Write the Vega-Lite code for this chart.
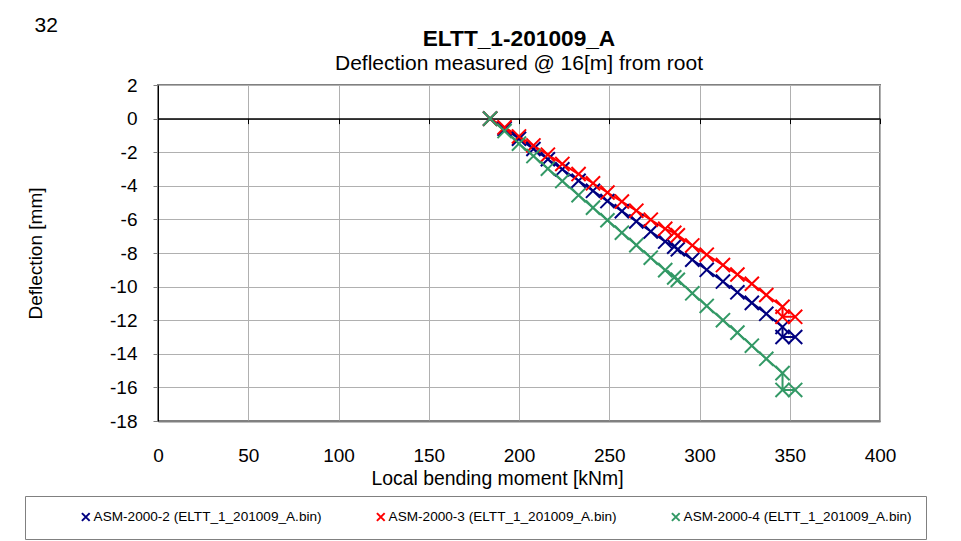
{
  "$schema": "https://vega.github.io/schema/vega-lite/v6.json",
  "width": 722,
  "height": 336,
  "autosize": {"type": "none"},
  "padding": {"left": 158, "top": 85, "right": 81, "bottom": 120},
  "background": "white",
  "config": {
    "font": "Liberation Sans",
    "view": {"stroke": "#808080", "strokeWidth": 2},
    "axis": {"labelFont": "Liberation Sans", "titleFont": "Liberation Sans", "labelColor": "black", "titleColor": "black", "titleFontWeight": "normal"}
  },
  "title": {
    "text": "ELTT_1-201009_A",
    "subtitle": "Deflection measured @ 16[m] from root",
    "anchor": "middle",
    "frame": "group",
    "fontSize": 22.7,
    "fontWeight": "bold",
    "subtitleFontSize": 21,
    "subtitleColor": "black",
    "color": "black",
    "font": "Liberation Sans",
    "subtitleFont": "Liberation Sans",
    "offset": -59,
    "subtitlePadding": 2
  },
  "data": {
    "values": [
      {"series": "ASM-2000-2 (ELTT_1_201009_A.bin)", "step": 0, "moment": 184, "deflection": 0},
      {"series": "ASM-2000-2 (ELTT_1_201009_A.bin)", "step": 1, "moment": 192, "deflection": -0.6},
      {"series": "ASM-2000-2 (ELTT_1_201009_A.bin)", "step": 2, "moment": 200, "deflection": -1.2},
      {"series": "ASM-2000-2 (ELTT_1_201009_A.bin)", "step": 3, "moment": 208, "deflection": -1.81},
      {"series": "ASM-2000-2 (ELTT_1_201009_A.bin)", "step": 4, "moment": 216, "deflection": -2.42},
      {"series": "ASM-2000-2 (ELTT_1_201009_A.bin)", "step": 5, "moment": 224, "deflection": -3.02},
      {"series": "ASM-2000-2 (ELTT_1_201009_A.bin)", "step": 6, "moment": 233, "deflection": -3.7},
      {"series": "ASM-2000-2 (ELTT_1_201009_A.bin)", "step": 7, "moment": 241, "deflection": -4.3},
      {"series": "ASM-2000-2 (ELTT_1_201009_A.bin)", "step": 8, "moment": 249, "deflection": -4.91},
      {"series": "ASM-2000-2 (ELTT_1_201009_A.bin)", "step": 9, "moment": 257, "deflection": -5.51},
      {"series": "ASM-2000-2 (ELTT_1_201009_A.bin)", "step": 10, "moment": 265, "deflection": -6.12},
      {"series": "ASM-2000-2 (ELTT_1_201009_A.bin)", "step": 11, "moment": 273, "deflection": -6.72},
      {"series": "ASM-2000-2 (ELTT_1_201009_A.bin)", "step": 12, "moment": 281, "deflection": -7.32},
      {"series": "ASM-2000-2 (ELTT_1_201009_A.bin)", "step": 13, "moment": 286, "deflection": -7.62},
      {"series": "ASM-2000-2 (ELTT_1_201009_A.bin)", "step": 14, "moment": 288, "deflection": -7.78},
      {"series": "ASM-2000-2 (ELTT_1_201009_A.bin)", "step": 15, "moment": 296, "deflection": -8.4},
      {"series": "ASM-2000-2 (ELTT_1_201009_A.bin)", "step": 16, "moment": 304, "deflection": -9.0},
      {"series": "ASM-2000-2 (ELTT_1_201009_A.bin)", "step": 17, "moment": 313, "deflection": -9.7},
      {"series": "ASM-2000-2 (ELTT_1_201009_A.bin)", "step": 18, "moment": 321, "deflection": -10.34},
      {"series": "ASM-2000-2 (ELTT_1_201009_A.bin)", "step": 19, "moment": 329, "deflection": -10.97},
      {"series": "ASM-2000-2 (ELTT_1_201009_A.bin)", "step": 20, "moment": 337, "deflection": -11.62},
      {"series": "ASM-2000-2 (ELTT_1_201009_A.bin)", "step": 21, "moment": 346, "deflection": -12.4},
      {"series": "ASM-2000-2 (ELTT_1_201009_A.bin)", "step": 22, "moment": 346, "deflection": -13.0},
      {"series": "ASM-2000-2 (ELTT_1_201009_A.bin)", "step": 23, "moment": 353, "deflection": -13.0},
      {"series": "ASM-2000-3 (ELTT_1_201009_A.bin)", "step": 0, "moment": 184, "deflection": 0},
      {"series": "ASM-2000-3 (ELTT_1_201009_A.bin)", "step": 1, "moment": 192, "deflection": -0.52},
      {"series": "ASM-2000-3 (ELTT_1_201009_A.bin)", "step": 2, "moment": 200, "deflection": -1.06},
      {"series": "ASM-2000-3 (ELTT_1_201009_A.bin)", "step": 3, "moment": 208, "deflection": -1.6},
      {"series": "ASM-2000-3 (ELTT_1_201009_A.bin)", "step": 4, "moment": 216, "deflection": -2.15},
      {"series": "ASM-2000-3 (ELTT_1_201009_A.bin)", "step": 5, "moment": 224, "deflection": -2.7},
      {"series": "ASM-2000-3 (ELTT_1_201009_A.bin)", "step": 6, "moment": 233, "deflection": -3.3},
      {"series": "ASM-2000-3 (ELTT_1_201009_A.bin)", "step": 7, "moment": 241, "deflection": -3.85},
      {"series": "ASM-2000-3 (ELTT_1_201009_A.bin)", "step": 8, "moment": 249, "deflection": -4.4},
      {"series": "ASM-2000-3 (ELTT_1_201009_A.bin)", "step": 9, "moment": 257, "deflection": -4.94},
      {"series": "ASM-2000-3 (ELTT_1_201009_A.bin)", "step": 10, "moment": 265, "deflection": -5.48},
      {"series": "ASM-2000-3 (ELTT_1_201009_A.bin)", "step": 11, "moment": 273, "deflection": -6.02},
      {"series": "ASM-2000-3 (ELTT_1_201009_A.bin)", "step": 12, "moment": 281, "deflection": -6.56},
      {"series": "ASM-2000-3 (ELTT_1_201009_A.bin)", "step": 13, "moment": 286, "deflection": -6.8},
      {"series": "ASM-2000-3 (ELTT_1_201009_A.bin)", "step": 14, "moment": 288, "deflection": -6.95},
      {"series": "ASM-2000-3 (ELTT_1_201009_A.bin)", "step": 15, "moment": 296, "deflection": -7.55},
      {"series": "ASM-2000-3 (ELTT_1_201009_A.bin)", "step": 16, "moment": 304, "deflection": -8.1},
      {"series": "ASM-2000-3 (ELTT_1_201009_A.bin)", "step": 17, "moment": 313, "deflection": -8.72},
      {"series": "ASM-2000-3 (ELTT_1_201009_A.bin)", "step": 18, "moment": 321, "deflection": -9.28},
      {"series": "ASM-2000-3 (ELTT_1_201009_A.bin)", "step": 19, "moment": 329, "deflection": -9.83},
      {"series": "ASM-2000-3 (ELTT_1_201009_A.bin)", "step": 20, "moment": 337, "deflection": -10.5},
      {"series": "ASM-2000-3 (ELTT_1_201009_A.bin)", "step": 21, "moment": 346, "deflection": -11.2},
      {"series": "ASM-2000-3 (ELTT_1_201009_A.bin)", "step": 22, "moment": 346, "deflection": -11.8},
      {"series": "ASM-2000-3 (ELTT_1_201009_A.bin)", "step": 23, "moment": 353, "deflection": -11.8},
      {"series": "ASM-2000-4 (ELTT_1_201009_A.bin)", "step": 0, "moment": 184, "deflection": 0},
      {"series": "ASM-2000-4 (ELTT_1_201009_A.bin)", "step": 1, "moment": 192, "deflection": -0.74},
      {"series": "ASM-2000-4 (ELTT_1_201009_A.bin)", "step": 2, "moment": 200, "deflection": -1.49},
      {"series": "ASM-2000-4 (ELTT_1_201009_A.bin)", "step": 3, "moment": 208, "deflection": -2.23},
      {"series": "ASM-2000-4 (ELTT_1_201009_A.bin)", "step": 4, "moment": 216, "deflection": -2.98},
      {"series": "ASM-2000-4 (ELTT_1_201009_A.bin)", "step": 5, "moment": 224, "deflection": -3.72},
      {"series": "ASM-2000-4 (ELTT_1_201009_A.bin)", "step": 6, "moment": 233, "deflection": -4.56},
      {"series": "ASM-2000-4 (ELTT_1_201009_A.bin)", "step": 7, "moment": 241, "deflection": -5.3},
      {"series": "ASM-2000-4 (ELTT_1_201009_A.bin)", "step": 8, "moment": 249, "deflection": -6.05},
      {"series": "ASM-2000-4 (ELTT_1_201009_A.bin)", "step": 9, "moment": 257, "deflection": -6.79},
      {"series": "ASM-2000-4 (ELTT_1_201009_A.bin)", "step": 10, "moment": 265, "deflection": -7.53},
      {"series": "ASM-2000-4 (ELTT_1_201009_A.bin)", "step": 11, "moment": 273, "deflection": -8.28},
      {"series": "ASM-2000-4 (ELTT_1_201009_A.bin)", "step": 12, "moment": 281, "deflection": -9.02},
      {"series": "ASM-2000-4 (ELTT_1_201009_A.bin)", "step": 13, "moment": 286, "deflection": -9.45},
      {"series": "ASM-2000-4 (ELTT_1_201009_A.bin)", "step": 14, "moment": 288, "deflection": -9.6},
      {"series": "ASM-2000-4 (ELTT_1_201009_A.bin)", "step": 15, "moment": 296, "deflection": -10.4},
      {"series": "ASM-2000-4 (ELTT_1_201009_A.bin)", "step": 16, "moment": 304, "deflection": -11.15},
      {"series": "ASM-2000-4 (ELTT_1_201009_A.bin)", "step": 17, "moment": 313, "deflection": -12.0},
      {"series": "ASM-2000-4 (ELTT_1_201009_A.bin)", "step": 18, "moment": 321, "deflection": -12.74},
      {"series": "ASM-2000-4 (ELTT_1_201009_A.bin)", "step": 19, "moment": 329, "deflection": -13.52},
      {"series": "ASM-2000-4 (ELTT_1_201009_A.bin)", "step": 20, "moment": 337, "deflection": -14.3},
      {"series": "ASM-2000-4 (ELTT_1_201009_A.bin)", "step": 21, "moment": 346, "deflection": -15.15},
      {"series": "ASM-2000-4 (ELTT_1_201009_A.bin)", "step": 22, "moment": 346, "deflection": -16.15},
      {"series": "ASM-2000-4 (ELTT_1_201009_A.bin)", "step": 23, "moment": 353, "deflection": -16.15}
    ]
  },
  "encoding": {
    "x": {
      "field": "moment", "type": "quantitative",
      "scale": {"domain": [0, 400], "nice": false, "zero": false},
      "axis": {
        "title": "Local bending moment [kNm]",
        "values": [0, 50, 100, 150, 200, 250, 300, 350, 400],
        "labelExpr": "toString(datum.value)",
        "labelFlush": false,
        "grid": true, "gridColor": "#b0b0b0", "gridWidth": 1,
        "domain": true, "domainColor": "#808080", "domainWidth": 2,
        "ticks": false, "tickSize": 0,
        "labelFontSize": 19, "labelPadding": 25,
        "titleFontSize": 19.4, "titleX": 339, "titleAlign": "center", "titleY": 48, "titleBaseline": "top"
      }
    },
    "y": {
      "field": "deflection", "type": "quantitative",
      "scale": {"domain": [-18, 2], "nice": false, "zero": false},
      "axis": {
        "title": "Deflection [mm]",
        "values": [-18, -16, -14, -12, -10, -8, -6, -4, -2, 0, 2],
        "labelExpr": "toString(datum.value)",
        "labelFlush": false,
        "grid": true, "gridColor": "#b0b0b0", "gridWidth": 1,
        "domain": true, "domainColor": "black", "domainWidth": 1,
        "ticks": true, "tickSize": 5, "tickColor": "#808080",
        "labelFontSize": 19, "labelPadding": 16,
        "titleFontSize": 19, "titleX": -123, "titleBaseline": "middle"
      }
    },
    "color": {
      "field": "series", "type": "nominal",
      "scale": {
        "domain": ["ASM-2000-2 (ELTT_1_201009_A.bin)", "ASM-2000-3 (ELTT_1_201009_A.bin)", "ASM-2000-4 (ELTT_1_201009_A.bin)"],
        "range": ["#000080", "#ff0000", "#339966"]
      },
      "legend": {
        "title": "\u00a0",
        "titleOrient": "left",
        "titlePadding": 40,
        "titleFontSize": 13,
        "orient": "none",
        "legendX": -133,
        "legendY": 411,
        "direction": "horizontal",
        "columns": 3,
        "columnPadding": 50,
        "padding": 14,
        "strokeColor": "#808080",
        "fillColor": "white",
        "symbolType": "M-1,-1L1,1M-1,1L1,-1",
        "symbolSize": 60,
        "symbolStrokeWidth": 2,
        "labelFontSize": 13.6,
        "labelLimit": 500,
        "labelFont": "Liberation Sans",
        "labelColor": "black",
        "labelOffset": 1
      }
    },
    "order": {"field": "step", "type": "quantitative"}
  },
  "resolve": {"axis": {"x": "independent"}},
  "layer": [
    {
      "mark": {"type": "line", "strokeWidth": 2}
    },
    {
      "mark": {"type": "point", "shape": "M-1,-1L1,1M-1,1L1,-1", "size": 200, "strokeWidth": 2, "filled": false, "opacity": 1},
      "encoding": {
        "x": {
          "field": "moment", "type": "quantitative",
          "scale": {"domain": [0, 400], "nice": false, "zero": false},
          "axis": {
            "orient": "top",
            "offset": -33.6,
            "values": [0, 50, 100, 150, 200, 250, 300, 350, 400],
            "grid": false,
            "labels": false,
            "domain": true, "domainColor": "black", "domainWidth": 1.5,
            "ticks": true, "tickColor": "black", "tickSize": -5, "tickWidth": 1,
            "title": "32",
            "titleFontSize": 21,
            "titleAngle": 0,
            "titleX": -124,
            "titleY": -104,
            "titleAlign": "left",
            "titleBaseline": "top"
          }
        }
      }
    }
  ]
}
